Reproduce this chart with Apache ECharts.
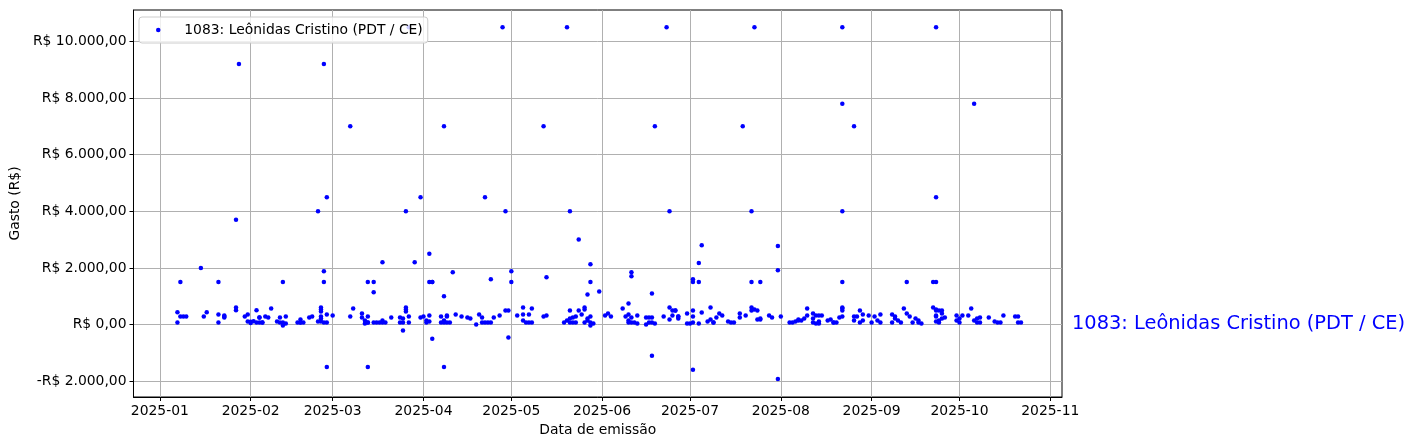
<!DOCTYPE html>
<html>
<head>
<meta charset="utf-8">
<script src="https://cdn.jsdelivr.net/npm/echarts@6/dist/echarts.min.js"></script>
<style>html,body{margin:0;padding:0;background:#fff;}#c{width:1415px;height:448px;}</style>
</head>
<body>
<div id="c"></div>
<script>
// [day of month, gasto in R$] per month of 2025
const jan = [[7,70],[7,430],[8,284],[8,1500],[9,284],[10,284],[15,2000],[16,284],[17,430],[21,355],[21,1500],[21,70],[23,250],[23,320],[23,284],[27,3700],[27,500],[27,600],[28,9200],[30,284],[31,355],[31,107]];
const feb = [[1,100],[1,50],[2,120],[3,70],[3,500],[4,250],[4,250],[4,70],[5,70],[5,70],[6,284],[7,250],[8,570],[10,107],[11,250],[11,70],[12,-35],[12,1500],[12,70],[13,35],[13,284],[17,71],[18,71],[18,71],[18,178],[19,71],[21,250],[22,284],[24,4000],[24,107],[25,284],[25,213],[25,532],[25,603],[25,462],[25,107],[26,71],[26,1880],[26,1500],[26,9200],[27,71],[27,-1500],[27,4500],[27,355]];
const mar = [[1,320],[7,284],[7,7000],[8,568],[11,390],[11,250],[12,142],[12,35],[13,71],[13,284],[13,71],[13,1500],[13,-1500],[15,1500],[15,1136],[15,71],[16,71],[17,71],[18,142],[18,71],[18,2200],[19,71],[21,250],[24,71],[24,250],[25,213],[25,71],[25,-213],[26,4000],[26,603],[26,532],[26,462],[27,71],[27,284],[27,10500],[29,2200],[31,250],[31,4500]];
const apr = [[1,284],[2,142],[2,71],[3,320],[3,107],[3,1500],[3,2500],[4,1500],[4,1500],[4,-500],[7,284],[7,71],[8,-1500],[8,1000],[8,7000],[8,142],[8,71],[9,320],[9,284],[9,71],[10,71],[11,1850],[12,355],[14,284],[16,250],[17,213],[19,0],[20,355],[21,250],[21,71],[22,71],[22,4500],[23,71],[24,71],[24,1600],[25,250],[27,320],[28,10500],[29,497],[29,4000],[30,497],[30,-460]];
const may = [[1,1880],[1,1500],[3,320],[5,603],[5,355],[5,142],[6,71],[7,71],[7,355],[8,71],[8,568],[12,284],[12,7000],[13,320],[13,1670],[19,71],[20,142],[20,10500],[21,213],[21,71],[21,4000],[21,497],[22,71],[22,250],[23,71],[23,284],[24,3000],[24,497],[25,355],[26,603],[26,532],[26,71],[27,1065],[27,142],[27,213],[28,284],[28,71],[28,-35],[28,2130],[28,1500],[29,35],[31,1170]];
const jun = [[2,320],[3,390],[4,284],[8,568],[9,284],[10,746],[10,355],[10,142],[10,71],[11,250],[11,71],[11,1846],[11,1704],[12,71],[13,320],[13,35],[16,250],[16,0],[17,250],[17,71],[18,250],[18,71],[18,1100],[18,-1100],[19,35],[19,7000],[22,284],[23,10500],[24,603],[24,178],[24,4000],[25,497],[25,320],[26,497],[26,497],[27,284],[27,213],[27,284],[30,390],[30,35]];
const jul = [[1,35],[2,1598],[2,1500],[2,-1600],[2,497],[2,284],[2,71],[4,35],[4,2170],[4,1500],[5,2800],[5,426],[7,107],[8,178],[8,603],[9,71],[9,71],[10,250],[11,390],[12,320],[14,107],[15,71],[16,71],[18,390],[18,250],[19,7000],[20,320],[22,603],[22,497],[22,4000],[22,1500],[23,532],[24,497],[24,178],[23,10500],[25,1500],[25,178],[25,213],[28,320],[29,250],[31,2770],[31,1920],[31,-1920]];
const aug = [[1,284],[4,71],[5,71],[6,107],[7,142],[7,178],[8,142],[9,213],[10,568],[10,320],[12,390],[12,213],[12,71],[13,320],[13,35],[14,320],[14,107],[14,35],[15,320],[17,142],[18,178],[19,71],[19,71],[20,71],[21,250],[22,284],[22,603],[22,568],[22,497],[22,1500],[22,4000],[22,7800],[22,10500],[26,7000],[26,284],[26,142],[27,284],[28,497],[28,71],[29,355],[29,142],[31,320]];
const sep = [[1,71],[2,284],[3,142],[4,71],[4,355],[8,355],[8,71],[9,213],[9,284],[10,142],[11,71],[12,568],[13,390],[13,1500],[14,284],[15,71],[16,213],[17,142],[17,71],[18,35],[22,1500],[22,603],[23,1500],[23,4500],[23,10500],[23,497],[23,532],[23,284],[23,320],[23,107],[24,497],[24,71],[24,142],[25,497],[25,390],[25,213],[26,250],[30,320],[30,142]];
const oct = [[1,213],[1,71],[2,320],[4,320],[5,568],[6,7800],[6,142],[7,71],[7,213],[8,250],[8,71],[11,250],[13,107],[14,71],[15,71],[16,320],[20,284],[21,284],[21,71],[22,71]];

const months = [jan, feb, mar, apr, may, jun, jul, aug, sep, oct];
const seriesName = '1083: Leônidas Cristino (PDT / CE)';
const yTicks = [-2000, 0, 2000, 4000, 6000, 8000, 10000];
const xTickMonths = [0,1,2,3,4,5,6,7,8,9,10]; // month index, day 1 of 2025

// x is expressed as days since 2025-01-01 (UTC calendar)
const DAY = 86400000;
const T0 = Date.UTC(2025, 0, 1);
const dayNum = (y, m, d) => (Date.UTC(y, m, d) - T0) / DAY;
const data = [];
months.forEach((arr, m) => arr.forEach(([d, v]) => data.push([dayNum(2025, m, d), v])));
const xTicks = xTickMonths.map(m => dayNum(2025, m, 1));
const xMin = dayNum(2024, 11, 23);
const xMax = dayNum(2025, 10, 5);
const yMin = -2560, yMax = 11110;

function brl(v) {
  const a = Math.abs(v);
  const s = Math.round(a).toString().replace(/\B(?=(\d{3})+(?!\d))/g, '.');
  return (v < 0 ? '-' : '') + 'R$ ' + s + ',00';
}
function ym(x) {
  const d = new Date(T0 + x * DAY);
  return d.getUTCFullYear() + '-' + String(d.getUTCMonth() + 1).padStart(2, '0');
}

const FONT = 'DejaVu Sans';
const chart = echarts.init(document.getElementById('c'), null, {renderer: 'canvas'});
chart.setOption({
  animation: false,
  textStyle: {fontFamily: FONT},
  grid: {left: 131, right: 353, top: 10, bottom: 51, show: true, borderColor: '#000', borderWidth: 1, backgroundColor: 'transparent'},
  legend: {
    show: true, left: 139, top: 17, orient: 'vertical',
    padding: [6, 5, 6, 17],
    itemWidth: 42, itemHeight: 4.5, icon: 'circle',
    backgroundColor: 'rgba(255,255,255,0.8)', borderColor: '#cccccc', borderWidth: 1, borderRadius: 3,
    textStyle: {fontFamily: FONT, fontSize: 13.9, color: '#000'},
    data: [seriesName]
  },
  xAxis: {
    type: 'value', min: xMin, max: xMax,
    name: 'Data de emissão', nameLocation: 'middle', nameGap: 26,
    nameTextStyle: {fontFamily: FONT, fontSize: 13.9, color: '#000'},
    axisLine: {show: true, onZero: false, lineStyle: {color: '#000', width: 1}},
    axisTick: {show: true, length: 4, lineStyle: {color: '#000'}, customValues: xTicks},
    axisLabel: {customValues: xTicks, formatter: v => ym(v), color: '#000', fontSize: 13.9, fontFamily: FONT, margin: 7, showMinLabel: true, showMaxLabel: true},
    splitLine: {show: true, lineStyle: {color: '#b0b0b0', width: 1}}
  },
  yAxis: {
    type: 'value', min: yMin, max: yMax,
    name: 'Gasto (R$)', nameLocation: 'middle', nameGap: 108, nameRotate: 90,
    nameTextStyle: {fontFamily: FONT, fontSize: 13.9, color: '#000'},
    axisLine: {show: true, onZero: false, lineStyle: {color: '#000', width: 1}},
    axisTick: {show: true, length: 4, lineStyle: {color: '#000'}, customValues: yTicks},
    axisLabel: {customValues: yTicks, formatter: v => brl(v), color: '#000', fontSize: 13.9, fontFamily: FONT, margin: 7},
    splitLine: {show: true, lineStyle: {color: '#b0b0b0', width: 1}}
  },
  series: [{
    name: seriesName, type: 'scatter', data: data,
    symbol: 'circle', symbolSize: 4.5,
    itemStyle: {color: '#0000ff', opacity: 1},
    emphasis: {disabled: true}
  }]
});
const p = chart.convertToPixel({gridIndex: 0}, [xMax, 0]);
chart.setOption({
  graphic: [{
    type: 'text', left: p[0] + 10, top: p[1] - 10,
    style: {text: seriesName, fill: '#0000ff', font: '19.4px "DejaVu Sans"', textVerticalAlign: 'top'}
  }]
});
</script>
</body>
</html>
